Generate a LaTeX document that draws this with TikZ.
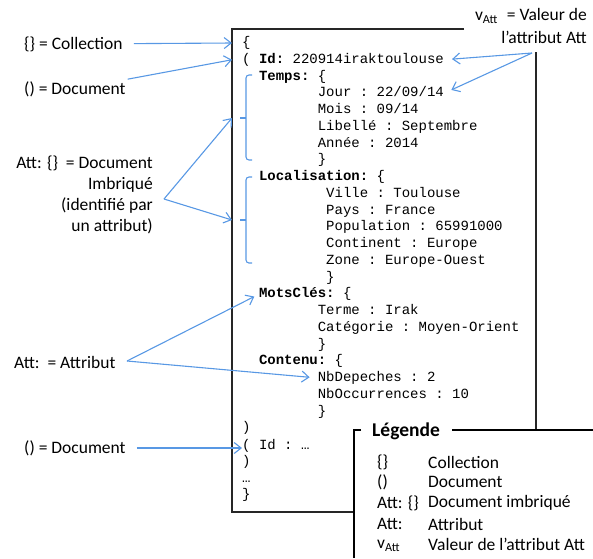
\documentclass[tikz,border=0pt]{standalone}
\usepackage{fontspec}
\setmainfont{Carlito}
\setmonofont{Liberation Mono}
\usetikzlibrary{arrows.meta}
\usepackage{xcolor}
\definecolor{arrowblue}{RGB}{88,152,228}

\begin{document}
\begin{tikzpicture}[x=1pt, y=-1pt,
  code/.style={font=\fontsize{14}{16}\ttfamily, inner sep=0, anchor=west, text height=10pt, text depth=3pt},
  lbl/.style={font=\fontsize{17.5}{21}\selectfont, inner sep=0},
  arr/.style={arrowblue, line width=1.1pt, -{Straight Barb[length=7pt,width=11pt]}},
  brk/.style={arrowblue, line width=1.1pt, rounded corners=3pt},
  frame/.style={black!85, line width=1.1pt},
  legendline/.style={black, line width=1.7pt}]

\useasboundingbox (0,0) rectangle (593,558);

% cadre du document
\coordinate (boxNW) at (232,29);
\draw[frame] (464,29) -- (boxNW) -- (232,512) -- (354,512);
\draw[frame] (536,52) -- (536,430);

% contenu JSON
\node[code] (l0) at (242,43) {\{};
\node[code] (l1) at (242,59.75) {( \textbf{Id:} 220914iraktoulouse};
\node[code] (l2) at (258.8,76.5) {\textbf{Temps:} \{};
\node[code] (l3) at (317.6,93.25) {Jour : 22/09/14};
\node[code] (l4) at (317.6,110) {Mois : 09/14};
\node[code] (l5) at (317.6,126.75) {Libellé : Septembre};
\node[code] (l6) at (317.6,143.5) {Année : 2014};
\node[code] (l7) at (317.6,160.25) {\}};
\node[code] (l8) at (258.8,177) {\textbf{Localisation:} \{};
\node[code] (l9) at (326,193.75) {Ville : Toulouse};
\node[code] (l10) at (326,210.5) {Pays : France};
\node[code] (l11) at (326,227.25) {Population : 65991000};
\node[code] (l12) at (326,244) {Continent : Europe};
\node[code] (l13) at (326,260.75) {Zone : Europe-Ouest};
\node[code] (l14) at (326,277.5) {\}};
\node[code] (l15) at (258.8,294.25) {\textbf{MotsClés:} \{};
\node[code] (l16) at (317.6,311) {Terme : Irak};
\node[code] (l17) at (317.6,327.75) {Catégorie : Moyen-Orient};
\node[code] (l18) at (317.6,344.5) {\}};
\node[code] (l19) at (258.8,361.25) {\textbf{Contenu:} \{};
\node[code] (l20) at (317.6,378) {NbDepeches : 2};
\node[code] (l21) at (317.6,394.75) {NbOccurrences : 10};
\node[code] (l22) at (317.6,411.5) {\}};
\node[code] (l23) at (242,428.25) {)};
\node[code] (l24) at (242,445.5) {( Id : …};
\node[code] (l25) at (242,462) {)};
\node[code] (l26) at (242,478.5) {…};
\node[code] (l27) at (242,495.25) {\}};

% crochets des documents imbriques
\coordinate (tempsMid) at (240,118);
\coordinate (locMid) at (240,220);
\draw[brk] (252,75) -- (246,75) -- (246,160) -- (252,160);
\draw[brk] (246,118) -- (tempsMid);
\draw[brk] (252,177) -- (246,177) -- (246,263) -- (252,263);
\draw[brk] (246,220) -- (locMid);

% etiquettes de gauche
\node[lbl, anchor=west] (collL) at (24,44) {\{\} = Collection};
\node[lbl, anchor=west] (docL) at (24,89) {() = Document};
\node[lbl, anchor=north east, align=right] (attDocL) at (153,156) {Att: \{\}\ \ = Document\\Imbriqué\\(identifié par\hspace*{4pt}\\un attribut)};
\node[lbl, anchor=west] (attrL) at (14,362) {Att:\ \ = Attribut};
\node[lbl, anchor=west] (doc2L) at (24,448) {() = Document};

% etiquette en haut a droite
\node[lbl, anchor=east] (vAttL) at (587,16) {v\textsubscript{Att}\hspace{5pt} = Valeur de};
\node[lbl, anchor=east] (vAttL2) at (587,37) {l’attribut Att};

% fleches
\coordinate (attV) at (164,199);
\coordinate (attrV) at (127,361);
\coordinate (vV) at (532,53);
\draw[arr, shorten <=11pt] (collL) -- (boxNW |- l0);
\draw[arr, shorten <=11pt] (docL) -- (boxNW |- l1);
\draw[arr] (attV) -- (boxNW |- tempsMid);
\draw[arr] (attV) -- (boxNW |- locMid);
\draw[arr, shorten >=5pt] (attrV) -- (l15.west);
\draw[arr, shorten >=8pt] (attrV) -- (l20.west);
\draw[arr, shorten <=11pt] (doc2L) -- (doc2L -| l24.west);
\draw[arr, shorten >=8pt] (vV) -- (l1.east);
\draw[arr, shorten >=8pt] (vV) -- (l3.east);

% legende
\node[lbl, font=\fontsize{19.5}{21}\selectfont\bfseries, anchor=west] (legT) at (372,431) {Légende};
\draw[legendline] (361,430) -- (354,430) -- (354,558);
\draw[legendline] (452,430) -- (593,430);
\node[lbl, anchor=west] (k1) at (377,462) {\{\}};
\node[lbl, anchor=west] (v1) at (428,462) {Collection};
\node[lbl, anchor=west] (k2) at (377,482) {()};
\node[lbl, anchor=west] (v2) at (428,482) {Document};
\node[lbl, anchor=west] (k3) at (377,503) {Att: \{\}};
\node[lbl, anchor=west] (v3) at (428,503) {Document imbriqué};
\node[lbl, anchor=west] (k4) at (377,524) {Att:};
\node[lbl, anchor=west] (v4) at (428,524) {Attribut};
\node[lbl, anchor=west] (k5) at (377,546) {v\textsubscript{Att}};
\node[lbl, anchor=west] (v5) at (428,544) {Valeur de l’attribut Att};

\end{tikzpicture}
\end{document}
